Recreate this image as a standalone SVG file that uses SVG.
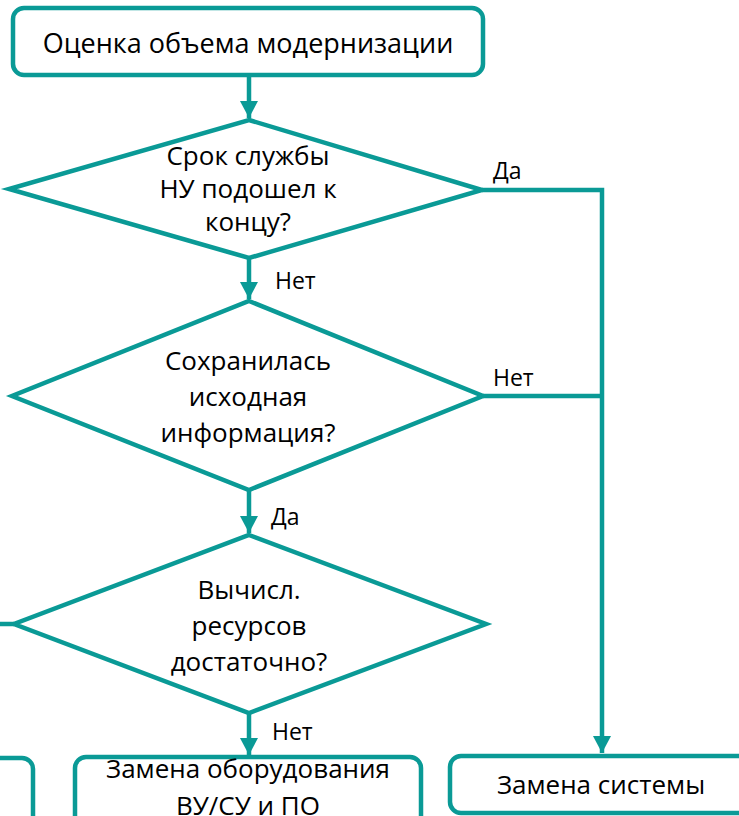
<svg xmlns="http://www.w3.org/2000/svg" width="739" height="816" viewBox="0 0 739 816">
<style>
.shape{fill:#fff;stroke:#0A9A96;stroke-width:4.5}
.conn{fill:none;stroke:#0A9A96;stroke-width:4.5}
.t{font-family:"Open Sans","Liberation Sans",sans-serif;font-size:26px;fill:#000;text-anchor:middle}
.lbl{font-family:"Open Sans","Liberation Sans",sans-serif;font-size:23px;fill:#000}
</style>
<defs>
<marker id="ah" markerUnits="userSpaceOnUse" markerWidth="18" markerHeight="20" refX="17" refY="10" orient="auto">
<path d="M0,1 L17,10 L0,19 Z" fill="#0A9A96"/>
</marker>
</defs>
<g id="connectors">
<path class="conn" d="M249,75 V118" marker-end="url(#ah)"/>
<path class="conn" d="M249,258 V299" marker-end="url(#ah)"/>
<path class="conn" d="M249,490 V533" marker-end="url(#ah)"/>
<path class="conn" d="M249,712 V755" marker-end="url(#ah)"/>
<path class="conn" d="M482,190 H602 V753" marker-end="url(#ah)"/>
<path class="conn" d="M483,396 H602"/>
<path class="conn" d="M14,624 H0"/>
</g>
<g id="start">
<rect class="shape" x="13" y="8" width="470" height="67" rx="11"/>
<text class="t" x="248" y="53" style="font-size:27px">Оценка объема модернизации</text>
</g>
<g id="d1">
<polygon class="shape" points="249,120 482,190 249,258 9,189"/>
<text class="t" x="248" y="165">Срок службы</text>
<text class="t" x="248" y="198">НУ подошел к</text>
<text class="t" x="248" y="231">концу?</text>
</g>
<g id="d2">
<polygon class="shape" points="249,301 483,396 249,490 12,396"/>
<text class="t" x="248" y="370">Сохранилась</text>
<text class="t" x="248" y="406">исходная</text>
<text class="t" x="248" y="442">информация?</text>
</g>
<g id="d3">
<polygon class="shape" points="249,535 486,624 249,713 14,624"/>
<text class="t" x="249" y="599">Вычисл.</text>
<text class="t" x="249" y="635">ресурсов</text>
<text class="t" x="249" y="671">достаточно?</text>
</g>
<g id="left-box">
<rect class="shape" x="-20" y="758" width="53" height="80" rx="11"/>
</g>
<g id="replace-equip">
<rect class="shape" x="75" y="757" width="346" height="80" rx="11"/>
<text class="t" x="248" y="778">Замена оборудования</text>
<text class="t" x="248" y="815">ВУ/СУ и ПО</text>
</g>
<g id="replace-system">
<rect class="shape" x="450" y="756" width="300" height="57" rx="11"/>
<text class="t" x="601" y="794">Замена системы</text>
</g>
<g id="labels">
<text class="lbl" x="493" y="179">Да</text>
<text class="lbl" x="275" y="289">Нет</text>
<text class="lbl" x="493" y="386">Нет</text>
<text class="lbl" x="271" y="525">Да</text>
<text class="lbl" x="272" y="740">Нет</text>
</g>
</svg>
